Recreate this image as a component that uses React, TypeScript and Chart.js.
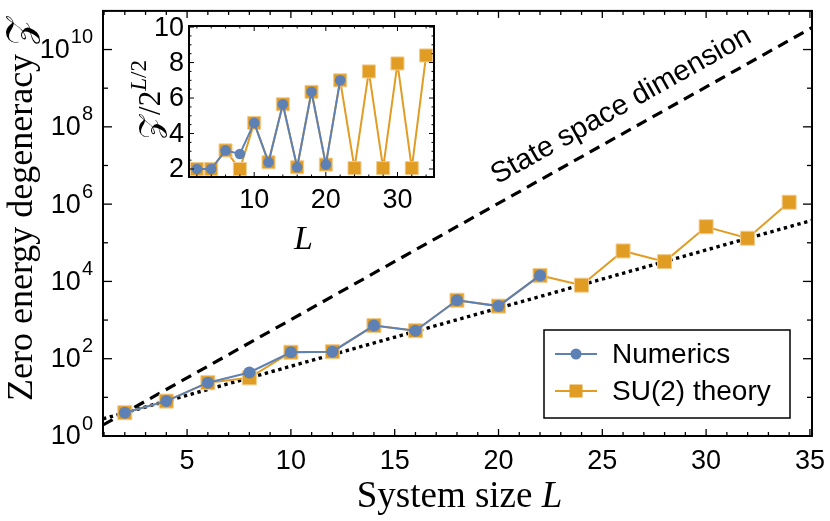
import React, { useEffect, useRef } from "react";
import { Chart, registerables } from "chart.js";

Chart.register(...registerables);

// ---------------- data ----------------
const numericsL = [2, 4, 6, 8, 10, 12, 14, 16, 18, 20, 22];
const numericsZ = [4, 8, 24, 44, 147, 152, 720, 530, 3260, 2300, 14300];
const su2L = [2, 4, 6, 8, 10, 12, 14, 16, 18, 20, 22, 24, 26, 28, 30, 32, 34];
const su2Z = [4, 8, 24, 32, 147, 152, 720, 530, 3260, 2300, 14300, 8000, 61500, 32500, 260000, 131000, 1120000];
// straight reference lines (end points)
const refL = [0.95, 35.1];
const stateSpaceZ = [1.93, 3.7e10];
const su2ScalingZ = [2.78, 3.8e5];
// inset: Z / 2^(L/2)
const insetNumerics = [2.0, 2.0, 3.05, 2.85, 4.6, 2.38, 5.65, 2.1, 6.35, 2.25, 7.0];
const insetSU2 = [2.0, 2.0, 3.05, 2.0, 4.6, 2.38, 5.65, 2.1, 6.35, 2.25, 7.0, 2.05, 7.5, 2.05, 7.95, 2.05, 8.4];
// ticks / labels
const xTickLabels = [5, 10, 15, 20, 25, 30, 35];
const yTickExponents = [0, 2, 4, 6, 8, 10];
const insetXTicks = [10, 20, 30];
const insetYTicks = [2, 4, 6, 8, 10];
const seriesNames = ["Numerics", "SU(2) theory"];
const lineLabel = "State space dimension";

const BLUE = "#5E81B5";
const ORANGE = "#E19C24";
const SANS = '"Liberation Sans", Arial, Helvetica, sans-serif';
const SERIF = '"Liberation Serif", "Times New Roman", serif';
const ZSYM = "\u{1D4B5}";

type Part = { text: string; font: string; dy?: number };

function richWidth(ctx: CanvasRenderingContext2D, parts: Part[]) {
  let w = 0;
  for (const p of parts) {
    ctx.font = p.font;
    w += ctx.measureText(p.text).width;
  }
  return w;
}
function drawRich(ctx: CanvasRenderingContext2D, parts: Part[], x: number, y: number) {
  let cx = x - richWidth(ctx, parts) / 2;
  ctx.textAlign = "left";
  ctx.textBaseline = "alphabetic";
  for (const p of parts) {
    ctx.font = p.font;
    ctx.fillText(p.text, cx, y + (p.dy || 0));
    cx += ctx.measureText(p.text).width;
  }
}
function seg(ctx: CanvasRenderingContext2D, x1: number, y1: number, x2: number, y2: number) {
  ctx.beginPath();
  ctx.moveTo(x1, y1);
  ctx.lineTo(x2, y2);
  ctx.stroke();
}

const mainDecor = {
  id: "mainDecor",
  beforeDraw(chart: any) {
    const { ctx, width, height } = chart;
    ctx.save();
    ctx.fillStyle = "#fff";
    ctx.fillRect(0, 0, width, height);
    ctx.restore();
  },
  afterDraw(chart: any) {
    const { ctx, chartArea: a } = chart;
    const xs = chart.scales.x;
    const ys = chart.scales.y;
    ctx.save();
    ctx.strokeStyle = "#000";
    ctx.fillStyle = "#000";
    // ticks
    ctx.lineWidth = 1.3;
    for (let L = 1; L <= 35; L++) {
      const px = xs.getPixelForValue(L);
      if (px < a.left || px > a.right) continue;
      const len = L % 5 === 0 ? 7 : 4;
      seg(ctx, px, a.bottom, px, a.bottom - len);
      seg(ctx, px, a.top, px, a.top + len);
    }
    for (let e = 0; e <= 11; e++) {
      const py = ys.getPixelForValue(Math.pow(10, e));
      const len = e % 2 === 0 ? 9 : 5;
      seg(ctx, a.left, py, a.left + len, py);
      seg(ctx, a.right, py, a.right - len, py);
    }
    // frame
    ctx.lineWidth = 2;
    ctx.strokeRect(a.left, a.top, a.right - a.left, a.bottom - a.top);
    // x tick labels
    ctx.font = `27px ${SANS}`;
    ctx.textAlign = "center";
    ctx.textBaseline = "middle";
    for (const t of xTickLabels) ctx.fillText(String(t), xs.getPixelForValue(t), a.bottom + 26);
    // y tick labels 10^e
    for (const e of yTickExponents) {
      const py = ys.getPixelForValue(Math.pow(10, e));
      const right = a.left - 10;
      ctx.font = `20px ${SANS}`;
      ctx.textAlign = "right";
      ctx.textBaseline = "middle";
      const ew = ctx.measureText(String(e)).width;
      ctx.fillText(String(e), right, py - 12);
      ctx.font = `27px ${SANS}`;
      ctx.fillText("10", right - ew - 1, py + 1);
    }
    // axis titles
    drawRich(ctx, [
      { text: "System size ", font: `37px ${SERIF}` },
      { text: "L", font: `italic 37px ${SERIF}` },
    ], (a.left + a.right) / 2 + 2, 507);
    ctx.save();
    ctx.translate(32, (a.top + a.bottom) / 2 - 14);
    ctx.rotate(-Math.PI / 2);
    drawRich(ctx, [
      { text: "Zero energy degeneracy ", font: `36px ${SERIF}` },
      { text: ZSYM, font: `36px ${SERIF}` },
    ], 0, 0);
    ctx.restore();
    // label along dashed line
    const p1x = xs.getPixelForValue(refL[0]);
    const p1y = ys.getPixelForValue(stateSpaceZ[0]);
    const p2x = xs.getPixelForValue(refL[1]);
    const p2y = ys.getPixelForValue(stateSpaceZ[1]);
    const ang = Math.atan2(p2y - p1y, p2x - p1x);
    const f = (26.5 - refL[0]) / (refL[1] - refL[0]);
    const cx = p1x + f * (p2x - p1x) + Math.sin(ang) * 17;
    const cy = p1y + f * (p2y - p1y) - Math.cos(ang) * 17;
    ctx.save();
    ctx.translate(cx, cy);
    ctx.rotate(ang);
    ctx.font = `29px ${SANS}`;
    ctx.textAlign = "center";
    ctx.textBaseline = "alphabetic";
    ctx.fillText(lineLabel, 0, 0);
    ctx.restore();
    // legend
    const lx = 544, ly = 330, lw = 246, lh = 88;
    ctx.fillStyle = "#fff";
    ctx.fillRect(lx, ly, lw, lh);
    ctx.lineWidth = 1.5;
    ctx.strokeStyle = "#000";
    ctx.strokeRect(lx, ly, lw, lh);
    const rows = [
      { y: ly + 24, color: BLUE, shape: "circle" },
      { y: ly + 61, color: ORANGE, shape: "rect" },
    ];
    rows.forEach((r, i) => {
      ctx.strokeStyle = r.color;
      ctx.lineWidth = 2;
      seg(ctx, lx + 11, r.y, lx + 53, r.y);
      ctx.fillStyle = r.color;
      if (r.shape === "circle") {
        ctx.beginPath();
        ctx.arc(lx + 32, r.y, 5.5, 0, Math.PI * 2);
        ctx.fill();
      } else {
        ctx.fillRect(lx + 32 - 6.5, r.y - 6.5, 13, 13);
      }
      ctx.fillStyle = "#000";
      ctx.font = `28px ${SANS}`;
      ctx.textAlign = "left";
      ctx.textBaseline = "middle";
      ctx.fillText(seriesNames[i], lx + 68, r.y + 1);
    });
    ctx.restore();
  },
};

const insetDecor = {
  id: "insetDecor",
  beforeDatasetsDraw(chart: any) {
    const { ctx, chartArea: a } = chart;
    ctx.save();
    ctx.fillStyle = "#fff";
    ctx.fillRect(a.left, a.top, a.right - a.left, a.bottom - a.top);
    ctx.restore();
  },
  afterDraw(chart: any) {
    const { ctx, chartArea: a } = chart;
    const xs = chart.scales.x;
    const ys = chart.scales.y;
    ctx.save();
    ctx.strokeStyle = "#000";
    ctx.fillStyle = "#000";
    ctx.lineWidth = 1;
    for (let L = 2; L <= 34; L += 2) {
      const px = xs.getPixelForValue(L);
      const len = L % 10 === 0 ? 5 : 2.5;
      seg(ctx, px, a.bottom, px, a.bottom - len);
      seg(ctx, px, a.top, px, a.top + len);
    }
    for (let v = 2; v <= 10; v += 0.5) {
      const py = ys.getPixelForValue(v);
      const len = v % 2 === 0 ? 5 : 2.5;
      seg(ctx, a.left, py, a.left + len, py);
      seg(ctx, a.right, py, a.right - len, py);
    }
    ctx.lineWidth = 2;
    ctx.strokeRect(a.left, a.top, a.right - a.left, a.bottom - a.top);
    ctx.font = `27px ${SANS}`;
    ctx.textAlign = "center";
    ctx.textBaseline = "middle";
    for (const t of insetXTicks) ctx.fillText(String(t), xs.getPixelForValue(t), a.bottom + 24);
    ctx.textAlign = "right";
    for (const t of insetYTicks) ctx.fillText(String(t), a.left - 5, ys.getPixelForValue(t) + 1);
    // titles
    drawRich(ctx, [{ text: "L", font: `italic 34px ${SERIF}` }], (a.left + a.right) / 2 - 8, a.bottom + 72);
    ctx.save();
    ctx.translate(a.left - 29, (a.top + a.bottom) / 2 - 2);
    ctx.rotate(-Math.PI / 2);
    drawRich(ctx, [
      { text: ZSYM, font: `31px ${SERIF}` },
      { text: "/2", font: `31px ${SERIF}` },
      { text: "L", font: `italic 23px ${SERIF}`, dy: -14 },
      { text: "/2", font: `23px ${SERIF}`, dy: -14 },
    ], 0, 0);
    ctx.restore();
    ctx.restore();
  },
};

export default function App() {
  const mainRef = useRef<HTMLCanvasElement>(null);
  const insetRef = useRef<HTMLCanvasElement>(null);

  useEffect(() => {
    document.body.style.margin = "0";
    const main = new Chart(mainRef.current as HTMLCanvasElement, {
      type: "line",
      data: {
        datasets: [
          {
            label: seriesNames[0],
            data: numericsL.map((L, i) => ({ x: L, y: numericsZ[i] })),
            borderColor: BLUE,
            backgroundColor: BLUE,
            borderWidth: 2,
            pointStyle: "circle",
            pointRadius: 6,
            pointBorderWidth: 0,
            order: 0,
          },
          {
            label: seriesNames[1],
            data: su2L.map((L, i) => ({ x: L, y: su2Z[i] })),
            borderColor: ORANGE,
            backgroundColor: ORANGE,
            borderWidth: 2,
            pointStyle: "rect",
            pointRadius: 9.9,
            pointBorderWidth: 1,
            pointBorderColor: "#F2CB8C",
            order: 1,
          },
          {
            label: lineLabel,
            data: refL.map((L, i) => ({ x: L, y: stateSpaceZ[i] })),
            borderColor: "#000",
            borderWidth: 3.2,
            borderDash: [11, 7],
            pointRadius: 0,
            order: 2,
          },
          {
            label: "SU(2) scaling",
            data: refL.map((L, i) => ({ x: L, y: su2ScalingZ[i] })),
            borderColor: "#000",
            borderWidth: 3.4,
            borderDash: [3.4, 3.6],
            pointRadius: 0,
            order: 3,
          },
        ],
      },
      options: {
        responsive: false,
        animation: false,
        events: [],
        layout: { padding: { left: 103, top: 2, right: 18, bottom: 85 } },
        scales: {
          x: { type: "linear", min: 0.95, max: 35.1, display: false },
          y: { type: "logarithmic", min: 1, max: 1e11, display: false },
        },
        plugins: { legend: { display: false }, tooltip: { enabled: false } },
      },
      plugins: [mainDecor],
    } as any);

    const inset = new Chart(insetRef.current as HTMLCanvasElement, {
      type: "line",
      data: {
        datasets: [
          {
            label: seriesNames[0],
            data: numericsL.map((L, i) => ({ x: L, y: insetNumerics[i] })),
            borderColor: BLUE,
            backgroundColor: BLUE,
            borderWidth: 2,
            pointStyle: "circle",
            pointRadius: 5.3,
            pointBorderWidth: 0,
            order: 0,
          },
          {
            label: seriesNames[1],
            data: su2L.map((L, i) => ({ x: L, y: insetSU2[i] })),
            borderColor: ORANGE,
            backgroundColor: ORANGE,
            borderWidth: 2,
            pointStyle: "rect",
            pointRadius: 9.2,
            pointBorderWidth: 1,
            pointBorderColor: "#F2CB8C",
            order: 1,
          },
        ],
      },
      options: {
        responsive: false,
        animation: false,
        events: [],
        layout: { padding: { left: 69, top: 26, right: 26, bottom: 88 } },
        scales: {
          x: { type: "linear", min: 0.9, max: 35.1, display: false },
          y: { type: "linear", min: 1.55, max: 10.06, display: false },
        },
        plugins: { legend: { display: false }, tooltip: { enabled: false } },
      },
      plugins: [insetDecor],
    } as any);

    return () => {
      main.destroy();
      inset.destroy();
    };
  }, []);

  return (
    <div style={{ position: "relative", width: 830, height: 521, background: "#fff" }}>
      <canvas
        ref={mainRef}
        width={830}
        height={521}
        style={{ position: "absolute", left: 0, top: 0, width: 830, height: 521 }}
      />
      <canvas
        ref={insetRef}
        width={340}
        height={265}
        style={{ position: "absolute", left: 120, top: 0, width: 340, height: 265 }}
      />
    </div>
  );
}
